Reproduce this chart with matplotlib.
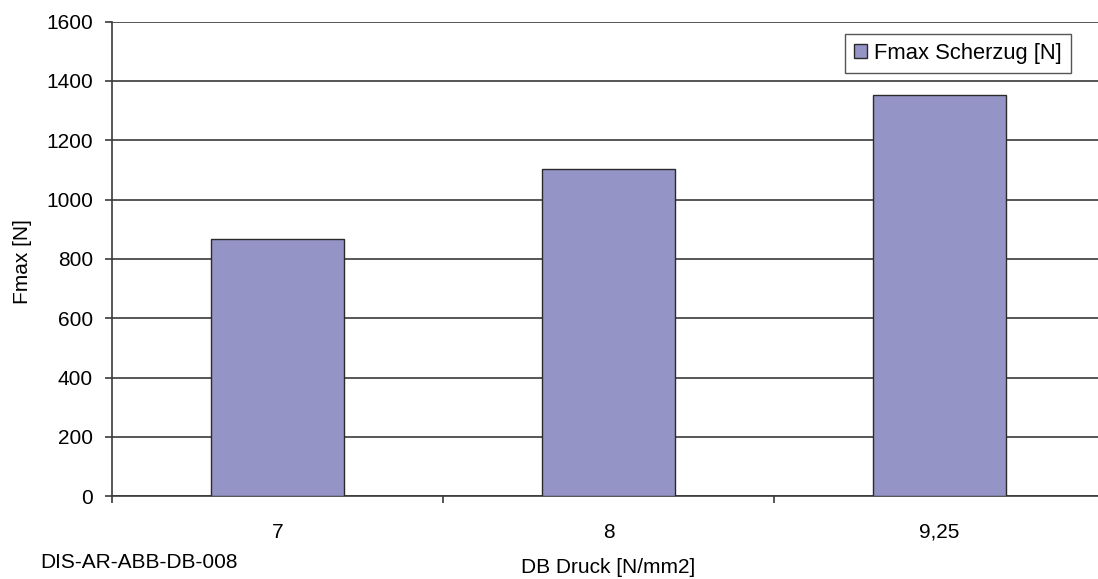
import matplotlib
matplotlib.use("Agg")
import matplotlib.pyplot as plt
from matplotlib.ticker import FixedLocator

plt.rcParams['font.family'] = ['Liberation Sans', 'DejaVu Sans']

categories = ["7", "8", "9,25"]
fmax_values = [868, 1104, 1353]
y_ticks = [0, 200, 400, 600, 800, 1000, 1200, 1400, 1600]

W, H = 1098, 579
FS = 15
fig = plt.figure(figsize=(W / 100, H / 100), dpi=100)
left, right, top, bottom = 112, 1105, 21.5, 496.3
ax = fig.add_axes([left / W, 1 - bottom / H, (right - left) / W, (bottom - top) / H])

x = list(range(len(categories)))
ax.bar(x, fmax_values, width=0.4, color="#9494C6", edgecolor="#2a2a2a",
       linewidth=1.0, zorder=3, label="Fmax Scherzug [N]")

ax.set_xlim(-0.5, len(categories) - 0.5)
ax.set_ylim(0, 1600)
ax.set_yticks(y_ticks)
ax.yaxis.grid(True, color="#3a3a3a", linewidth=1.2, zorder=0)
ax.set_axisbelow(True)

# category labels sit at bar centres, tick marks at the category boundaries
ax.set_xticks(x)
ax.set_xticklabels(categories)
ax.xaxis.set_minor_locator(FixedLocator([i - 0.5 for i in range(len(categories) + 1)]))
ax.tick_params(axis="x", which="major", length=0, pad=19, labelsize=FS)
ax.tick_params(axis="x", which="minor", length=5, width=1.2, color="#3a3a3a", direction="out")
ax.tick_params(axis="y", length=5, width=1.2, color="#3a3a3a", pad=8.6, labelsize=FS)

for s in ["top", "right"]:
    ax.spines[s].set_visible(False)
for s in ["left", "bottom"]:
    ax.spines[s].set_color("#3a3a3a")
    ax.spines[s].set_linewidth(1.2)

ax.set_ylabel("Fmax [N]", fontsize=FS)
ax.yaxis.label.set_va("center")
ax.yaxis.set_label_coords((22 - left) / (right - left), 0.495)

ax.set_xlabel("DB Druck [N/mm2]", fontsize=FS)
ax.xaxis.set_label_coords(0.5, (bottom - 558) / (bottom - top))

leg = ax.legend(loc="upper right", bbox_to_anchor=(1071 / W, 1 - 34 / H),
                bbox_transform=fig.transFigure, fontsize=15.8, frameon=True,
                fancybox=False, edgecolor="#2a2a2a", handlelength=0.6,
                handleheight=0.6, handletextpad=0.35, borderpad=0.4,
                borderaxespad=0)
leg.get_frame().set_linewidth(1.0)

fig.text(40 / W, 1 - 562 / H, "DIS-AR-ABB-DB-008", fontsize=FS, va="center", ha="left")

fig.savefig("out.png", dpi=100, facecolor="white")
